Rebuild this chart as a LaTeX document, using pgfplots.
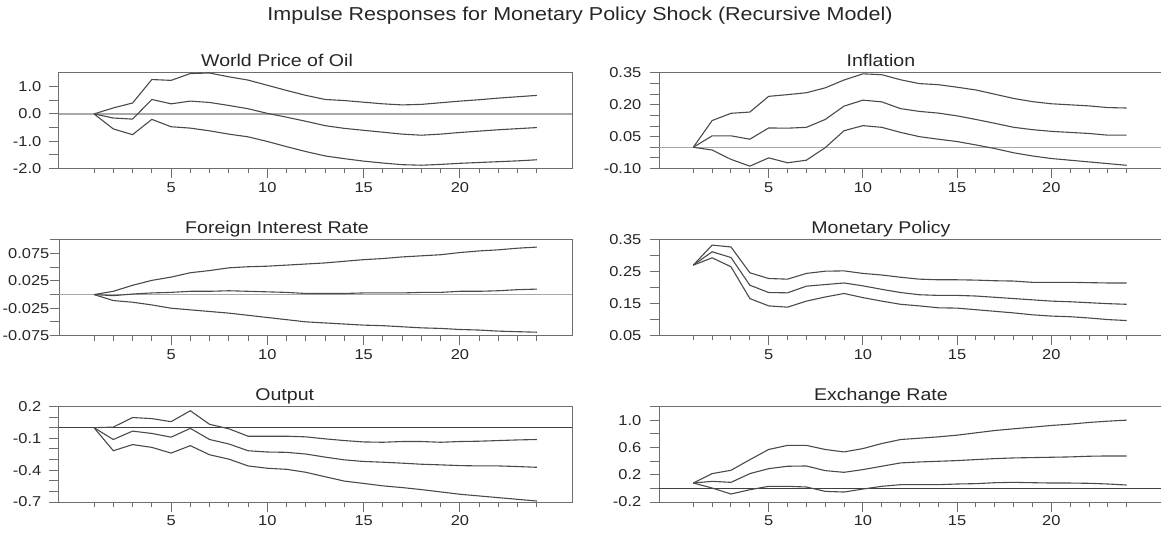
\documentclass[border=0pt]{standalone}
\usepackage{fontspec}
\setmainfont{Liberation Sans}[FakeStretch=1.15]
\usepackage{pgfplots}
\usepackage{pgfplotstable}
\pgfplotsset{compat=1.18}

\definecolor{ln}{HTML}{4A4A4A}
\definecolor{fr}{HTML}{6E6E6E}
\definecolor{zl}{HTML}{A8A8A8}
\definecolor{zd}{HTML}{404040}

\pgfplotstableread{
x up mid lo
1 0 0 0
2 0.22 -0.15 -0.55
3 0.40 -0.19 -0.76
4 1.26 0.53 -0.20
5 1.23 0.37 -0.47
6 1.48 0.47 -0.52
7 1.50 0.42 -0.62
8 1.36 0.31 -0.74
9 1.24 0.19 -0.84
10 1.05 0.02 -1.01
11 0.86 -0.12 -1.20
12 0.68 -0.27 -1.38
13 0.53 -0.43 -1.54
14 0.49 -0.53 -1.64
15 0.43 -0.60 -1.73
16 0.37 -0.67 -1.80
17 0.33 -0.74 -1.86
18 0.35 -0.78 -1.88
19 0.41 -0.74 -1.85
20 0.47 -0.68 -1.81
21 0.52 -0.63 -1.78
22 0.58 -0.58 -1.75
23 0.63 -0.54 -1.72
24 0.68 -0.50 -1.68
}\oil

\pgfplotstableread{
x up mid lo
1 0 0 0
2 0.126 0.054 -0.013
3 0.160 0.054 -0.057
4 0.166 0.038 -0.089
5 0.240 0.091 -0.050
6 0.248 0.090 -0.073
7 0.257 0.094 -0.061
8 0.280 0.131 -0.002
9 0.317 0.194 0.078
10 0.346 0.222 0.102
11 0.342 0.214 0.094
12 0.318 0.182 0.070
13 0.300 0.169 0.050
14 0.295 0.161 0.038
15 0.283 0.148 0.027
16 0.270 0.131 0.011
17 0.250 0.113 -0.006
18 0.230 0.094 -0.026
19 0.215 0.083 -0.041
20 0.205 0.075 -0.053
21 0.200 0.070 -0.061
22 0.195 0.065 -0.069
23 0.187 0.057 -0.077
24 0.185 0.057 -0.085
}\infl

\pgfplotstableread{
x up mid lo
1 0 0 0
2 0.006 -0.002 -0.011
3 0.017 0.001 -0.014
4 0.026 0.003 -0.019
5 0.032 0.004 -0.025
6 0.040 0.006 -0.028
7 0.044 0.006 -0.031
8 0.049 0.007 -0.034
9 0.051 0.006 -0.038
10 0.052 0.005 -0.042
11 0.054 0.004 -0.046
12 0.056 0.002 -0.050
13 0.058 0.002 -0.052
14 0.061 0.002 -0.054
15 0.064 0.003 -0.056
16 0.066 0.003 -0.057
17 0.069 0.003 -0.059
18 0.071 0.004 -0.061
19 0.073 0.004 -0.062
20 0.077 0.006 -0.064
21 0.080 0.006 -0.065
22 0.082 0.007 -0.067
23 0.085 0.009 -0.068
24 0.087 0.010 -0.069
}\fir

\pgfplotstableread{
x up mid lo
1 0.271 0.271 0.271
2 0.334 0.313 0.294
3 0.328 0.295 0.266
4 0.247 0.208 0.166
5 0.229 0.185 0.143
6 0.227 0.184 0.139
7 0.245 0.205 0.158
8 0.252 0.210 0.171
9 0.253 0.215 0.182
10 0.245 0.206 0.169
11 0.240 0.195 0.158
12 0.233 0.185 0.148
13 0.227 0.178 0.143
14 0.225 0.176 0.137
15 0.225 0.176 0.136
16 0.224 0.174 0.131
17 0.222 0.170 0.126
18 0.221 0.166 0.121
19 0.217 0.162 0.115
20 0.217 0.158 0.111
21 0.217 0.156 0.109
22 0.216 0.153 0.105
23 0.215 0.150 0.100
24 0.215 0.148 0.097
}\mp

\pgfplotstableread{
x up mid lo
1 0 0 0
2 0.006 -0.111 -0.217
3 0.096 -0.032 -0.159
4 0.086 -0.054 -0.185
5 0.057 -0.089 -0.239
6 0.160 -0.006 -0.169
7 0.032 -0.111 -0.255
8 -0.010 -0.153 -0.296
9 -0.080 -0.217 -0.360
10 -0.080 -0.229 -0.382
11 -0.080 -0.232 -0.392
12 -0.086 -0.248 -0.420
13 -0.105 -0.277 -0.462
14 -0.121 -0.303 -0.503
15 -0.134 -0.318 -0.525
16 -0.137 -0.325 -0.548
17 -0.130 -0.334 -0.564
18 -0.130 -0.344 -0.583
19 -0.137 -0.350 -0.605
20 -0.130 -0.357 -0.627
21 -0.127 -0.360 -0.643
22 -0.121 -0.360 -0.659
23 -0.115 -0.366 -0.675
24 -0.111 -0.373 -0.691
}\outp

\pgfplotstableread{
x up mid lo
1 0.078 0.078 0.078
2 0.216 0.103 0.005
3 0.265 0.088 -0.083
4 0.420 0.216 -0.020
5 0.570 0.289 0.030
6 0.630 0.324 0.030
7 0.630 0.328 0.020
8 0.570 0.260 -0.044
9 0.534 0.235 -0.054
10 0.583 0.275 -0.010
11 0.657 0.324 0.030
12 0.716 0.373 0.054
13 0.735 0.387 0.054
14 0.755 0.397 0.054
15 0.780 0.407 0.064
16 0.814 0.422 0.069
17 0.848 0.436 0.083
18 0.873 0.446 0.088
19 0.897 0.451 0.083
20 0.922 0.456 0.078
21 0.941 0.461 0.078
22 0.966 0.471 0.074
23 0.985 0.475 0.064
24 1.000 0.475 0.049
}\exch

\pgfplotsset{
  irfl/.style={ln, solid, line width=1.1pt, mark=none},
  irf/.style={
    scale only axis, height=95.5pt, anchor=north west,
    xmin=-0.82, xmax=25.82,
    axis line style={fr, line width=1pt},
    tick style={fr, line width=1pt},
    tick align=outside, tick pos=left,
    major tick length=9.5pt, minor tick length=5pt,
    xtick={5,10,15,20}, xticklabels={5,10,15,20},
    minor xtick={1,2,3,4,6,7,8,9,11,12,13,14,16,17,18,19,21,22,23,24},
    tick label style={font=\fontsize{14.3}{16}\selectfont, text=black!85},
    yticklabel style={anchor=east, inner sep=0pt, xshift=-8pt},
    xticklabel style={anchor=north, inner sep=0pt, yshift=-4pt},
    title style={font=\fontsize{17}{19}\selectfont, text=black!85, anchor=base, yshift=0pt},
  },
  lft/.style={irf, width=513pt, title style={at={(0.425,1)}}},
  rgt/.style={irf, width=502pt, title style={at={(0.442,1)}}},
}

\begin{document}
\begin{tikzpicture}
\node[font=\fontsize{18.7}{21}\selectfont, text=black!85, anchor=base] at (580pt,-21pt) {Impulse Responses for Monetary Policy Shock (Recursive Model)};

% Row 1
\begin{axis}[lft, at={(59pt,-73pt)}, title={World Price of Oil},
  ymin=-2, ymax=1.5, ytick={-2,-1.5,-1,-0.5,0,0.5,1}, yticklabels={-2.0,,-1.0,,0.0,,1.0}]
  \addplot[zl, line width=1.5pt] coordinates {(-0.82,0) (25.82,0)};
  \addplot[irfl] table[x=x,y=up]{\oil};
  \addplot[irfl] table[x=x,y=mid]{\oil};
  \addplot[irfl] table[x=x,y=lo]{\oil};
\end{axis}
\begin{axis}[rgt, at={(659pt,-73pt)}, title={Inflation},
  ymin=-0.1, ymax=0.35, ytick={-0.1,-0.05,0,0.05,0.1,0.15,0.2,0.25,0.3,0.35}, yticklabels={-0.10,,,0.05,,,0.20,,,0.35}]
  \addplot[zl, line width=1.5pt] coordinates {(-0.82,0) (25.82,0)};
  \addplot[irfl] table[x=x,y=up]{\infl};
  \addplot[irfl] table[x=x,y=mid]{\infl};
  \addplot[irfl] table[x=x,y=lo]{\infl};
\end{axis}

% Row 2
\begin{axis}[lft, at={(59pt,-240pt)}, title={Foreign Interest Rate},
  yticklabel style={xshift=8pt},
  ymin=-0.075, ymax=0.1, ytick={-0.075,-0.05,-0.025,0,0.025,0.05,0.075,0.1}, yticklabels={-0.075,,-0.025,,0.025,,0.075,}]
  \addplot[zl, line width=1.5pt] coordinates {(-0.82,0) (25.82,0)};
  \addplot[irfl] table[x=x,y=up]{\fir};
  \addplot[irfl] table[x=x,y=mid]{\fir};
  \addplot[irfl] table[x=x,y=lo]{\fir};
\end{axis}
\begin{axis}[rgt, at={(659pt,-240pt)}, title={Monetary Policy},
  ymin=0.05, ymax=0.35, ytick={0.05,0.1,0.15,0.2,0.25,0.3,0.35}, yticklabels={0.05,,0.15,,0.25,,0.35}]
  \addplot[irfl] table[x=x,y=up]{\mp};
  \addplot[irfl] table[x=x,y=mid]{\mp};
  \addplot[irfl] table[x=x,y=lo]{\mp};
\end{axis}

% Row 3
\begin{axis}[lft, at={(59pt,-406.5pt)}, title={Output}, title style={at={(0.44,1)}},
  ymin=-0.7, ymax=0.2, ytick={-0.7,-0.6,-0.5,-0.4,-0.3,-0.2,-0.1,0,0.1,0.2}, yticklabels={-0.7,,,-0.4,,,-0.1,,,0.2}]
  \addplot[zd, line width=1.2pt] coordinates {(-0.82,0) (25.82,0)};
  \addplot[irfl] table[x=x,y=up]{\outp};
  \addplot[irfl] table[x=x,y=mid]{\outp};
  \addplot[irfl] table[x=x,y=lo]{\outp};
\end{axis}
\begin{axis}[rgt, at={(659pt,-406.5pt)}, title={Exchange Rate},
  ymin=-0.2, ymax=1.2, ytick={-0.2,0,0.2,0.4,0.6,0.8,1.0,1.2}, yticklabels={-0.2,,0.2,,0.6,,1.0,}]
  \addplot[zd, line width=1.2pt] coordinates {(-0.82,0) (25.82,0)};
  \addplot[irfl] table[x=x,y=up]{\exch};
  \addplot[irfl] table[x=x,y=mid]{\exch};
  \addplot[irfl] table[x=x,y=lo]{\exch};
\end{axis}

\pgfresetboundingbox
\useasboundingbox (0pt,0pt) rectangle (1161pt,-534pt);
\end{tikzpicture}
\end{document}
